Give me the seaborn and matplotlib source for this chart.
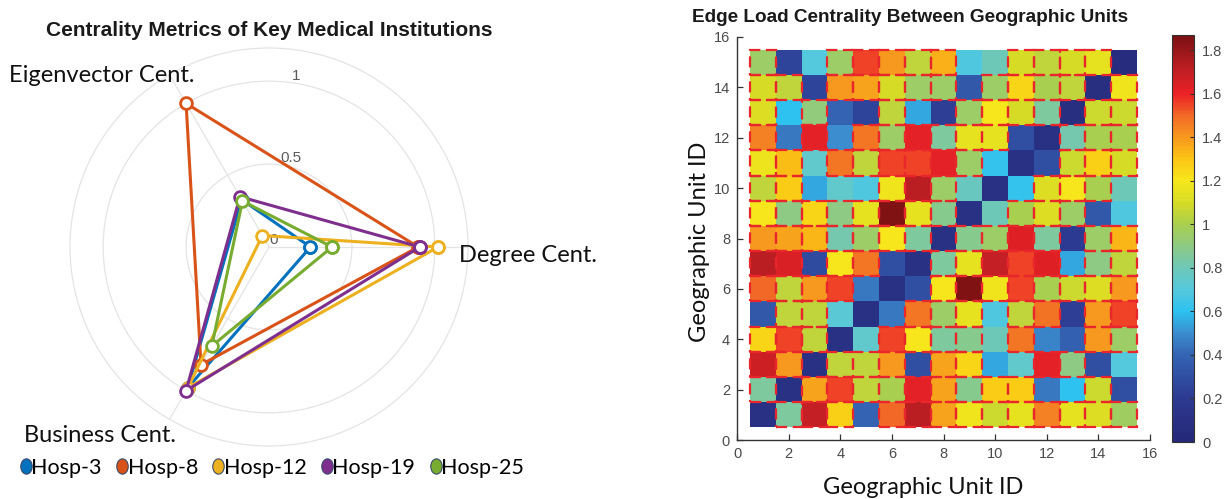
import numpy as np
import pandas as pd
import matplotlib
matplotlib.use("Agg")
import matplotlib.pyplot as plt
import seaborn as sns
from matplotlib.colors import LinearSegmentedColormap
from matplotlib.patches import Rectangle
from matplotlib.lines import Line2D
from matplotlib.markers import MarkerStyle
from matplotlib.transforms import Affine2D

# ---------------- radar data ----------------
metrics = ["Degree Cent.", "Eigenvector Cent.", "Business Cent."]
metric_angles_deg = [0, 120, 240]
hospitals = ["Hosp-3", "Hosp-8", "Hosp-12", "Hosp-19", "Hosp-25"]
degree = [0.25, 0.90, 1.02, 0.91, 0.38]
eigenvector = [0.33, 1.00, 0.08, 0.35, 0.32]
business = [0.98, 0.82, 0.98, 1.00, 0.69]
line_colors = ["#0072BD", "#D95319", "#EDB120", "#7E2F8E", "#77AC30"]

# ---------------- edge load matrix (rows listed from unit 15 down to unit 1) ----------------
unit_ids = list(range(1, 16))
load_rows_top_down = [
    [0.95, 0.25, 0.70, 0.95, 1.55, 1.40, 1.05, 1.35, 0.68, 0.80, 1.10, 1.05, 1.10, 1.15, 0.05],
    [1.10, 1.05, 0.25, 1.40, 1.38, 1.10, 0.95, 0.95, 0.35, 0.95, 1.25, 1.00, 1.05, 0.08, 1.18],
    [1.12, 0.60, 0.92, 0.40, 0.25, 1.05, 0.55, 0.22, 0.95, 1.20, 1.10, 0.85, 0.07, 1.08, 1.08],
    [1.45, 0.45, 1.62, 0.50, 1.47, 0.95, 1.62, 0.85, 1.15, 1.15, 0.30, 0.10, 0.82, 1.00, 1.00],
    [1.17, 1.32, 0.75, 1.47, 1.05, 1.55, 1.55, 1.62, 0.95, 0.62, 0.10, 0.30, 1.08, 1.27, 1.10],
    [1.05, 1.28, 0.55, 0.75, 0.68, 1.18, 1.72, 0.95, 0.78, 0.10, 0.62, 1.12, 1.20, 1.00, 0.80],
    [1.20, 0.90, 1.25, 0.90, 1.15, 1.85, 1.15, 0.88, 0.10, 0.80, 1.00, 1.12, 0.95, 0.35, 0.68],
    [1.40, 1.38, 1.33, 0.82, 0.95, 1.20, 0.85, 0.10, 0.88, 0.95, 1.63, 0.85, 0.20, 0.95, 1.33],
    [1.72, 1.65, 0.28, 1.20, 1.47, 0.30, 0.10, 0.85, 1.15, 1.70, 1.55, 1.63, 0.55, 0.90, 1.05],
    [1.50, 1.05, 1.40, 1.55, 0.45, 0.10, 0.30, 1.20, 1.85, 1.18, 1.55, 1.00, 1.08, 1.12, 1.40],
    [0.35, 1.05, 1.05, 0.72, 0.10, 0.45, 1.47, 0.95, 1.15, 0.68, 1.05, 1.48, 0.22, 1.40, 1.55],
    [1.25, 1.55, 1.05, 0.10, 0.75, 1.55, 1.20, 0.85, 0.88, 0.80, 1.47, 0.48, 0.38, 1.40, 0.95],
    [1.68, 1.40, 0.10, 1.05, 1.05, 1.40, 0.30, 1.38, 1.25, 0.55, 0.75, 1.62, 0.90, 0.30, 0.70],
    [0.85, 0.10, 1.38, 1.55, 1.05, 1.00, 1.62, 1.38, 0.88, 1.28, 1.28, 0.45, 0.60, 1.08, 0.30],
    [0.10, 0.85, 1.70, 1.27, 0.40, 1.50, 1.72, 1.38, 1.18, 1.08, 1.15, 1.45, 1.15, 1.12, 0.97],
]
highlight_threshold = 0.8
cbar_ticks = [0, 0.2, 0.4, 0.6, 0.8, 1, 1.2, 1.4, 1.6, 1.8]
axis_ticks = [0, 2, 4, 6, 8, 10, 12, 14, 16]

# ---------------- styling ----------------
plt.rcParams["font.family"] = ["Liberation Sans", "DejaVu Sans"]
label_font = "Lato"
tick_color = "#4a4a4a"

fig = plt.figure(figsize=(12.27, 4.99), dpi=100)
W, H = 1227.0, 499.0


def fx(px):
    return px / W


def fy(py):
    return 1 - py / H


# ================= radar chart =================
ax = fig.add_axes([fx(70), fy(446), 398 / W, 398 / H], projection="polar")

records = []
for name, d, e, b in zip(hospitals, degree, eigenvector, business):
    vals = [d, e, b, d]
    angs = metric_angles_deg + [metric_angles_deg[0]]
    for a, v in zip(angs, vals):
        records.append({"hospital": name, "theta": np.radians(a), "r": v})
radar_df = pd.DataFrame(records)

sns.lineplot(
    data=radar_df, x="theta", y="r", hue="hospital", hue_order=hospitals,
    palette=line_colors, sort=False, estimator=None, legend=False, ax=ax,
    linewidth=2.2, marker="o", markersize=8.5, markerfacecolor="white",
    markeredgewidth=2.0,
)
for line in ax.lines:
    line.set_markeredgecolor(line.get_color())

ax.set_ylim(0, 1.2)
ax.set_yticks([0, 0.5, 1.0])
ax.set_yticklabels(["0", "0.5", "1"], color="#5a5a5a", fontsize=11)
ax.set_rlabel_position(82)
ax.set_xticks(np.radians(metric_angles_deg))
ax.set_xticklabels([])
ax.grid(color="#e4e4e4", linewidth=0.9)
ax.spines["polar"].set_color("#e4e4e4")
ax.spines["polar"].set_linewidth(0.9)
ax.set_xlabel("")
ax.set_ylabel("")

fig.text(fx(269), fy(31), "Centrality Metrics of Key Medical Institutions",
         ha="center", va="center", fontsize=15, fontweight="bold", color="#1a1a1a")
metric_label_pos = {"Degree Cent.": (528, 256), "Eigenvector Cent.": (102, 75),
                    "Business Cent.": (100, 436)}
for m in metrics:
    px, py = metric_label_pos[m]
    fig.text(fx(px), fy(py), m, ha="center", va="center", fontsize=17,
             family=label_font, color="#111111")

oval = MarkerStyle("o", transform=Affine2D().scale(0.75, 1.0))
handles = [Line2D([], [], linestyle="none", marker=oval, markersize=11,
                  markerfacecolor=c, markeredgecolor="#3b4a6b", markeredgewidth=0.8)
           for c in line_colors]
fig.legend(handles, hospitals, loc="center", bbox_to_anchor=(fx(270), fy(468)),
           ncol=5, frameon=False, handletextpad=-0.2, columnspacing=0.5,
           handlelength=0.9, prop={"family": label_font, "size": 15.5})

# ================= heatmap =================
ax2 = fig.add_axes([fx(737), fy(440), 413 / W, 403 / H])
cax = fig.add_axes([fx(1172), fy(442), 22 / W, 407 / H])

grid_bottom_up = pd.DataFrame(load_rows_top_down[::-1], index=unit_ids, columns=unit_ids)

cmap = LinearSegmentedColormap.from_list("edgeload", [
    (0.00 / 1.87, "#262878"),
    (0.20 / 1.87, "#2c3a91"),
    (0.40 / 1.87, "#3464b4"),
    (0.50 / 1.87, "#3b8ed0"),
    (0.60 / 1.87, "#2cc2ef"),
    (0.70 / 1.87, "#55c8dc"),
    (0.80 / 1.87, "#6ec8b8"),
    (0.90 / 1.87, "#8dca84"),
    (1.00 / 1.87, "#a9cf4e"),
    (1.10 / 1.87, "#d6dc26"),
    (1.20 / 1.87, "#f6e71b"),
    (1.30 / 1.87, "#fbc614"),
    (1.40 / 1.87, "#f7991e"),
    (1.50 / 1.87, "#f26a27"),
    (1.60 / 1.87, "#ec2126"),
    (1.70 / 1.87, "#c41f24"),
    (1.87 / 1.87, "#7b1113"),
])

sns.heatmap(grid_bottom_up, ax=ax2, cbar_ax=cax, cmap=cmap, vmin=0, vmax=1.87,
            xticklabels=False, yticklabels=False)

# dashed outline around the heavier-loaded cells
for i, row in enumerate(grid_bottom_up.values):
    for j, v in enumerate(row):
        if v > highlight_threshold:
            ax2.add_patch(Rectangle((j, i), 1, 1, fill=False, edgecolor="#e8262b",
                                    linewidth=1.6, linestyle=(0, (5, 2.5))))

ax2.set_xlim(-0.5, 15.5)
ax2.set_ylim(-0.5, 15.5)
ax2.set_xticks([t - 0.5 for t in axis_ticks])
ax2.set_xticklabels([str(t) for t in axis_ticks])
ax2.set_yticks([t - 0.5 for t in axis_ticks])
ax2.set_yticklabels([str(t) for t in axis_ticks], rotation=0)
for side in ["left", "bottom"]:
    ax2.spines[side].set_visible(True)
    ax2.spines[side].set_color("#333333")
    ax2.spines[side].set_linewidth(1.0)
for side in ["top", "right"]:
    ax2.spines[side].set_visible(False)
ax2.tick_params(direction="in", length=4, width=0.9, color="#333333",
                labelsize=10.5, labelcolor=tick_color, pad=5)
ax2.set_xlabel("")
ax2.set_ylabel("")

cbar = ax2.collections[0].colorbar
cbar.set_ticks(cbar_ticks)
cbar.set_ticklabels([f"{t:g}" for t in cbar_ticks])
cax.tick_params(direction="in", length=3, width=0.8, color="#333333",
                labelsize=10.5, labelcolor=tick_color, pad=6)
cbar.outline.set_edgecolor("#333333")
cbar.outline.set_linewidth(0.8)

fig.text(fx(910), fy(17), "Edge Load Centrality Between Geographic Units",
         ha="center", va="center", fontsize=13.7, fontweight="bold", color="#1a1a1a")
fig.text(fx(923), fy(487), "Geographic Unit ID", ha="center", va="center",
         fontsize=17, family=label_font, color="#111111")
fig.text(fx(700), fy(242), "Geographic Unit ID", ha="center", va="center",
         rotation=90, fontsize=17, family=label_font, color="#111111")

fig.savefig("out.png", dpi=100)
